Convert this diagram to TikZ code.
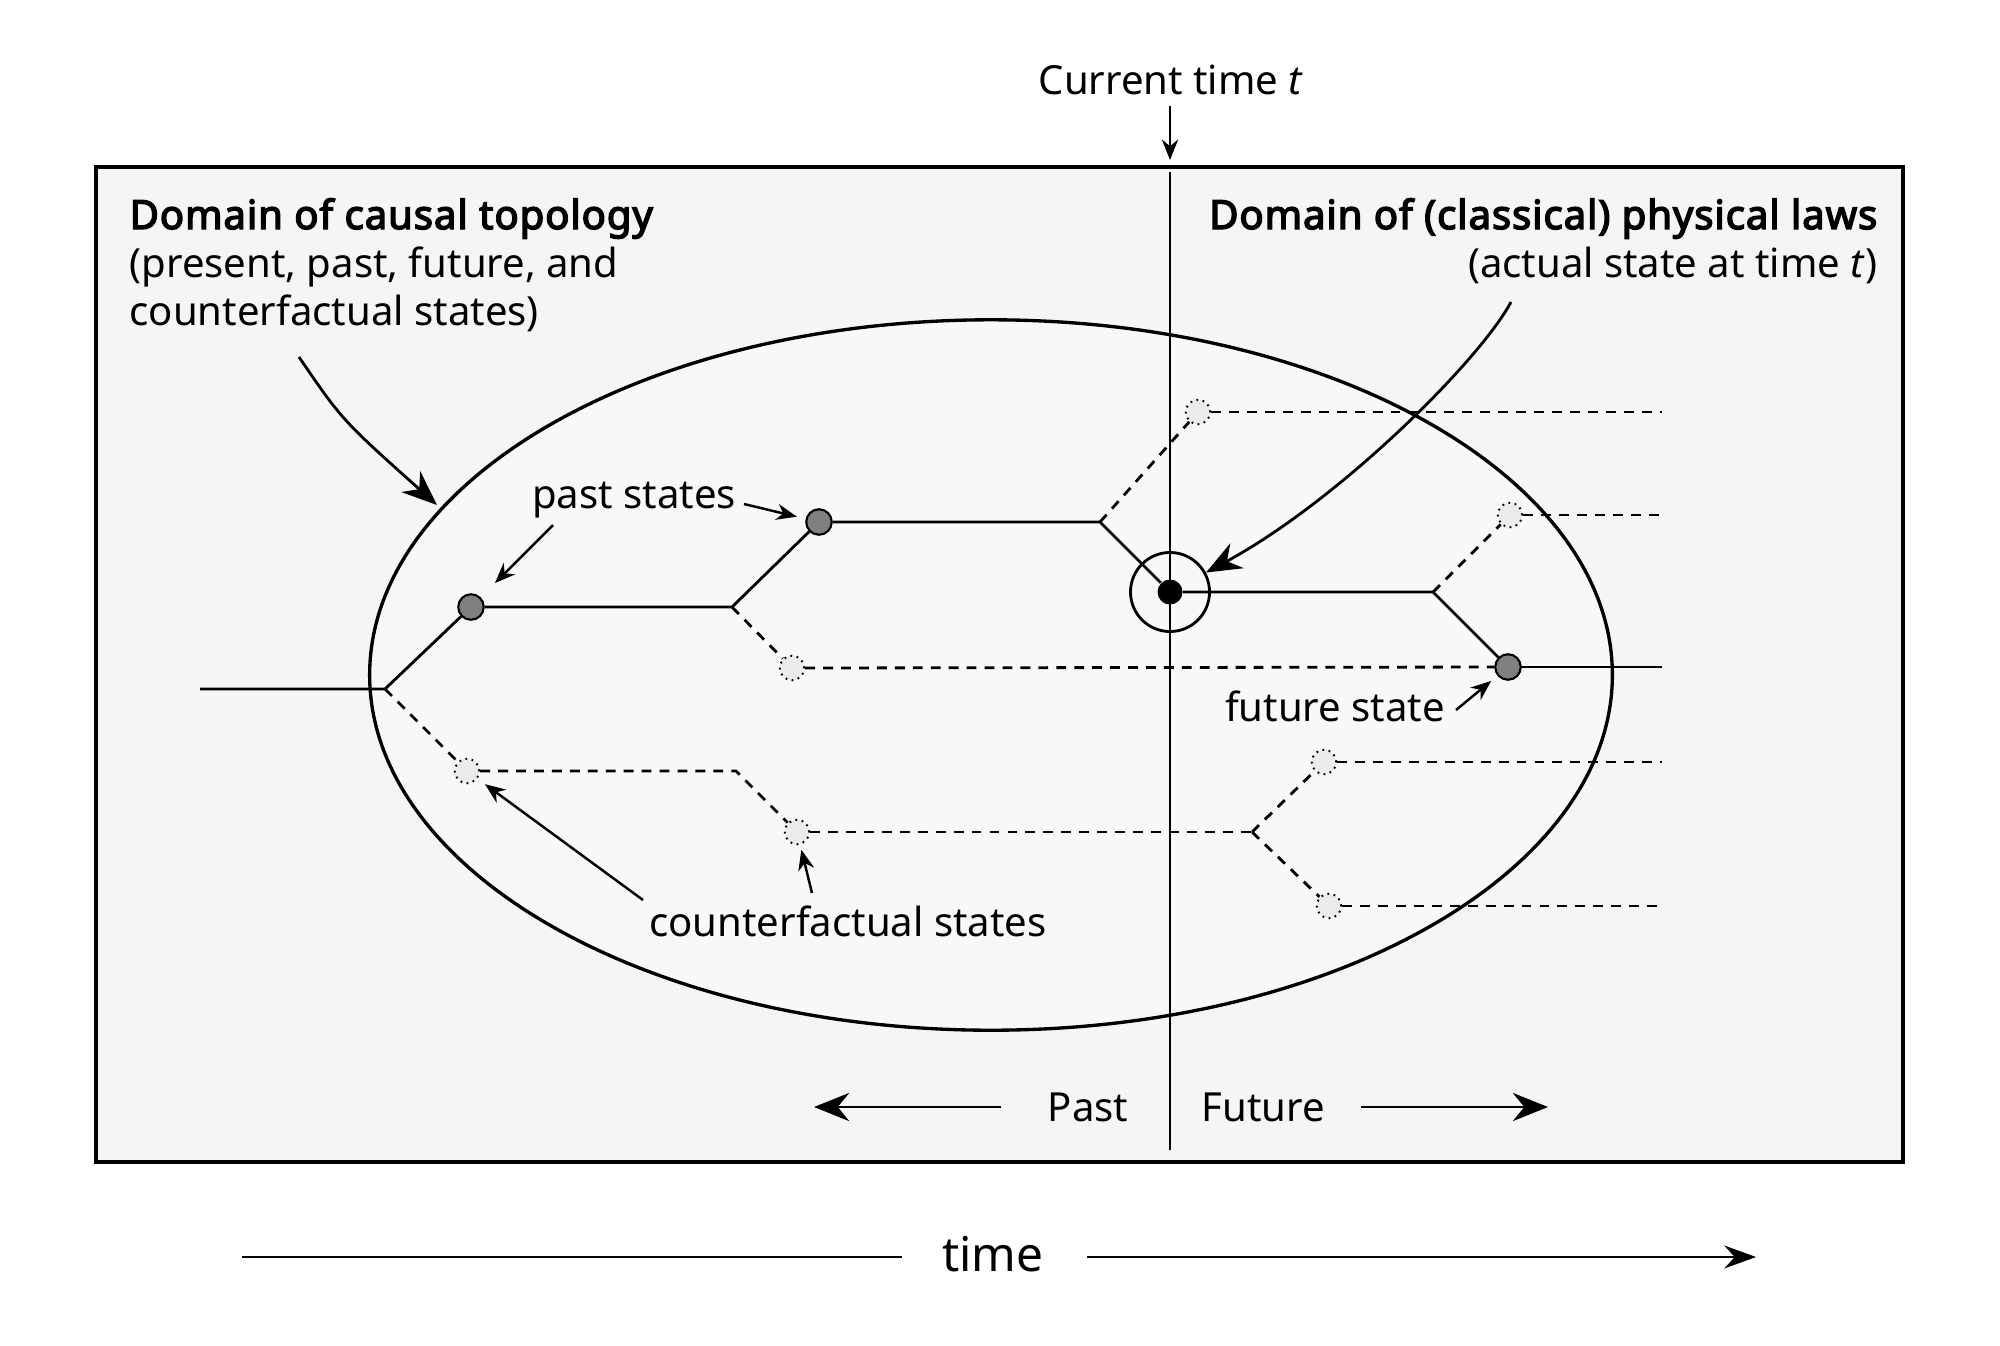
\documentclass[tikz,border=0pt]{standalone}
\usepackage{fontspec}
\setmainfont{Noto Sans}
\newfontfamily\headbold{Noto Sans}[FakeBold=3.6, LetterSpace=2.3]
\usetikzlibrary{arrows.meta}
\definecolor{boxfill}{HTML}{F5F5F5}
\definecolor{ellfill}{HTML}{F8F8F8}
\definecolor{dotgray}{HTML}{808080}
\definecolor{cffill}{HTML}{EBEBEB}
\begin{document}
\begin{tikzpicture}[x=0.01cm, y=-0.01cm,
  font=\fontsize{11.4}{14}\selectfont,
  tree/.style={line width=0.8pt},
  cfline/.style={line width=0.8pt, dash pattern=on 2.8pt off 2.3pt},
  pastdot/.style={circle, draw, fill=dotgray, line width=0.6pt, minimum size=0.255cm, inner sep=0pt},
  cfdot/.style={circle, draw=black, dash pattern=on 0.5pt off 1.3pt, fill=cffill, line width=0.55pt, minimum size=0.245cm, inner sep=0pt},
  nowdot/.style={circle, fill=black, minimum size=0.25cm, inner sep=0pt},
  ring/.style={circle, draw, line width=0.8pt, minimum size=0.79cm, inner sep=0pt},
  lbl/.style={inner sep=0pt, anchor=base},
  smallarr/.style={-{Stealth[length=5.8pt,width=4.6pt]}, line width=0.7pt},
  bigarr/.style={-{Stealth[length=10pt,width=8pt]}, line width=0.8pt}]
\useasboundingbox (0,0) rectangle (2000,1345);
\fill[white] (0,0) rectangle (2000,1345);
% frame and ellipse
\draw[fill=boxfill, line width=0.9pt] (96,167) rectangle (1903,1162);
\draw[fill=ellfill, line width=0.95pt] (991,675) ellipse [x radius=6.21cm, y radius=3.55cm];
% current time line
\coordinate (vt) at (1170,172);
\coordinate (vb) at (1170,1150);
\draw[line width=0.7pt] (vt) -- (vb);
% states
\coordinate (s0) at (200,689);
\coordinate (b0) at (385,689);
\node[pastdot] (p1) at (471,607) {};
\coordinate (b1) at (732,607);
\node[pastdot] (p2) at (819,522) {};
\coordinate (b2) at (1100,522);
\node[nowdot] (now) at (1170,592) {};
\node[ring] (ring) at (1170,592) {};
\coordinate (b3) at (1433,592);
\node[pastdot] (f1) at (1508,667) {};
\coordinate (f1e) at (1662,667);
\node[cfdot] (ca) at (1198,412) {};
\coordinate (cae) at (1662,412);
\node[cfdot] (cb) at (1510,515) {};
\coordinate (cbe) at (1662,515);
\node[cfdot] (cc) at (792,668) {};
\node[cfdot] (cd) at (467,771) {};
\coordinate (k1) at (736,771);
\node[cfdot] (ce) at (797,832) {};
\coordinate (b4) at (1252,832);
\node[cfdot] (cf) at (1324,762) {};
\coordinate (cfe) at (1662,762);
\node[cfdot] (cg) at (1329,906) {};
\coordinate (cge) at (1662,906);
% actual history
\draw[tree] (s0) -- (b0) -- (p1);
\draw[tree] (p1) -- (b1) -- (p2);
\draw[tree] (p2) -- (b2) -- (now);
\draw[tree] (now) -- (b3) -- (f1);
\draw[tree] (f1) -- (f1e);
% counterfactual branches
\draw[cfline] (b0) -- (cd);
\draw[cfline] (cd) -- (k1) -- (ce);
\draw[cfline] (ce) -- (b4);
\draw[cfline] (b4) -- (cf);
\draw[cfline] (b4) -- (cg);
\draw[cfline] (cf) -- (cfe);
\draw[cfline] (cg) -- (cge);
\draw[cfline] (b1) -- (cc);
\draw[cfline] (cc) -- (f1);
\draw[cfline] (b2) -- (ca);
\draw[cfline] (ca) -- (cae);
\draw[cfline] (b3) -- (cb);
\draw[cfline] (cb) -- (cbe);
% texts
\node[lbl] (curlbl) at (1171,94) {Current time \textit{t}};
\node[inner sep=0pt, anchor=base west] (lh1) at (129,229) {\headbold Domain of causal topology};
\node[inner sep=0pt, anchor=base west] (lh2) at (129,277) {(present, past, future, and};
\node[inner sep=0pt, anchor=base west] (lh3) at (129,325) {counterfactual states)};
\node[inner sep=0pt, anchor=base east] (rh1) at (1878,229) {\headbold Domain of (classical) physical laws};
\node[inner sep=0pt, anchor=base east] (rh2) at (1878,277) {(actual state at time \textit{t})};
\node[lbl] (pastlbl) at (634,508) {past states};
\node[lbl] (futlbl) at (1335,721) {future state};
\node[lbl] (cflbl) at (848,936) {counterfactual states};
\node[lbl] (pastw) at (1088,1121) {Past};
\node[lbl] (futw) at (1263,1121) {Future};
\node[lbl, font=\fontsize{13.6}{16}\selectfont] (timew) at (993,1271) {time};
% arrows
\coordinate (ct0) at (1170,106);
\coordinate (ct1) at (1170,160);
\draw[smallarr] (ct0) -- (ct1);
\coordinate (la0) at (299,357);
\coordinate (la1) at (437,505);
\draw[bigarr] (la0) .. controls (342,420) .. (la1);
\coordinate (ra0) at (1511,302);
\draw[bigarr] (ra0) .. controls (1480,360) and (1340,500) .. (ring);
\coordinate (pa1) at (553,525);
\draw[smallarr, shorten >=0.2cm] (pa1) -- (p1);
\coordinate (pa2) at (744,504);
\draw[smallarr, shorten >=0.09cm] (pa2) -- (p2);
\coordinate (fa) at (1456,710);
\draw[smallarr, shorten >=0.08cm] (fa) -- (f1);
\coordinate (ka1) at (643,900);
\draw[smallarr, shorten >=0.09cm] (ka1) -- (cd);
\coordinate (ka2) at (812,893);
\draw[smallarr, shorten >=0.05cm] (ka2) -- (ce);
\coordinate (pl0) at (1001,1107);
\coordinate (pl1) at (814,1107);
\draw[bigarr] (pl0) -- (pl1);
\coordinate (fl0) at (1361,1107);
\coordinate (fl1) at (1548,1107);
\draw[bigarr] (fl0) -- (fl1);
\coordinate (tl0) at (242,1257);
\coordinate (tl1) at (902,1257);
\draw[line width=0.7pt] (tl0) -- (tl1);
\coordinate (tr0) at (1087,1257);
\coordinate (tr1) at (1756,1257);
\draw[-{Stealth[length=9pt,width=6.5pt]}, line width=0.7pt] (tr0) -- (tr1);
\end{tikzpicture}
\end{document}
